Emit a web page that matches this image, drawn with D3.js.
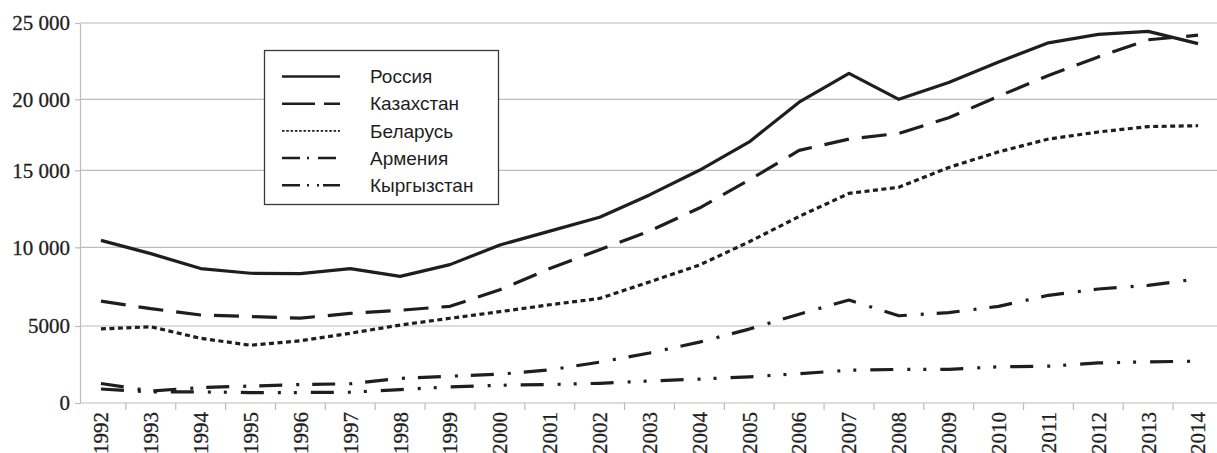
<!DOCTYPE html>
<html>
<head>
<meta charset="utf-8">
<script src="https://cdn.jsdelivr.net/npm/d3@7"></script>
<style>
body { margin: 0; background: #fff; }
svg { display: block; }
</style>
</head>
<body>
<svg id="svg"></svg>
<script>
var years = ["1992","1993","1994","1995","1996","1997","1998","1999","2000","2001","2002","2003",
	"2004","2005","2006","2007","2008","2009","2010","2011","2012","2013","2014"];
var russia     = [10450, 9600, 8650, 8350, 8330, 8650, 8150, 8900, 10150, 11050, 11950, 13400,
	15000, 17000, 19800, 21700, 20000, 21100, 22450, 23700, 24250, 24450, 23650];
var kazakhstan = [6580, 6100, 5700, 5600, 5500, 5800, 6000, 6250, 7300, 8650, 9850, 11050,
	12550, 14370, 16400, 17200, 17600, 18700, 20200, 21560, 22780, 23900, 24200];
var belarus    = [4810, 4950, 4200, 3750, 4040, 4530, 5060, 5490, 5910, 6350, 6750, 7800,
	8870, 10360, 12000, 13500, 13900, 15200, 16300, 17200, 17700, 18080, 18140];
var armenia    = [1265, 780, 1000, 1100, 1200, 1250, 1600, 1740, 1870, 2150, 2650, 3250,
	3950, 4800, 5750, 6650, 5650, 5850, 6250, 6950, 7350, 7580, 8000];
var kyrgyzstan = [910, 720, 720, 680, 680, 700, 870, 1050, 1150, 1200, 1280, 1430,
	1550, 1700, 1900, 2130, 2180, 2180, 2350, 2390, 2600, 2670, 2720];
var seriesNames = ["Россия", "Казахстан", "Беларусь", "Армения", "Кыргызстан"];
var yTicks = [0, 5000, 10000, 15000, 20000, 25000];
var yTickLabels = ["0", "5000", "10 000", "15 000", "20 000", "25 000"];

var width = 1217, height = 453;
var ink = "#1e1e1e", grid = "#bcbcbc";
var svg = d3.select("#svg")
	.attr("width", width)
	.attr("height", height);

// scanned original has slightly uneven gridlines, so the scale is piecewise
var x = d3.scaleBand()
	.domain(years)
	.range([76, 1223]);
var y = d3.scaleLinear()
	.domain(yTicks)
	.range([403, 326, 247.3, 170.3, 99.3, 23]);
var cx = function(yr) { return x(yr) + x.bandwidth() / 2; };

// gridlines
svg.append("g")
	.selectAll("line")
	.data(yTicks.slice(1))
	.enter()
	.append("line")
	.attr("x1", 80)
	.attr("x2", width)
	.attr("y1", function(d) { return y(d); })
	.attr("y2", function(d) { return y(d); })
	.style("stroke", grid)
	.style("stroke-width", 1.2);

// y axis
var yAxis = d3.axisLeft(y)
	.tickValues(yTicks)
	.tickSize(5)
	.tickSizeOuter(0)
	.tickPadding(5)
	.tickFormat(function(d, i) { return yTickLabels[i]; });
var gy = svg.append("g")
	.attr("transform", "translate(80,0)")
	.call(yAxis)
	.attr("font-family", "Liberation Serif")
	.attr("font-size", 21);
gy.selectAll("path, line").style("stroke", grid).style("stroke-width", 1.2);
gy.selectAll("text")
	.attr("font-family", "Liberation Serif")
	.attr("font-size", 21)
	.attr("fill", ink)
	.attr("stroke", ink)
	.attr("stroke-width", 0.3);

// x axis: baseline, ticks between years, rotated labels
svg.append("line")
	.attr("x1", 80).attr("x2", width)
	.attr("y1", y(0)).attr("y2", y(0))
	.style("stroke", grid)
	.style("stroke-width", 1.2);
svg.append("g")
	.selectAll("line")
	.data(years.slice(1))
	.enter()
	.append("line")
	.attr("x1", function(d) { return x(d); })
	.attr("x2", function(d) { return x(d); })
	.attr("y1", y(0))
	.attr("y2", y(0) + 7)
	.style("stroke", grid)
	.style("stroke-width", 1.2);
svg.append("g")
	.selectAll("text")
	.data(years)
	.enter()
	.append("text")
	.attr("transform", function(d) { return "translate(" + cx(d) + "," + (y(0) + 9) + ") rotate(-90)"; })
	.attr("dy", "0.35em")
	.attr("text-anchor", "end")
	.attr("font-family", "Liberation Serif")
	.attr("font-size", 21)
	.attr("fill", ink)
	.attr("stroke", ink)
	.attr("stroke-width", 0.3)
	.text(function(d) { return d; });

// series
var series = [
	{ name: seriesNames[0], values: russia,     dash: null,                legDash: null,               legW: 2.5 },
	{ name: seriesNames[1], values: kazakhstan, dash: "25,13",             legDash: "33,9",             legW: 2.5 },
	{ name: seriesNames[2], values: belarus,    dash: "5,3.5",             legDash: "2.5,1.8",          legW: 1.6 },
	{ name: seriesNames[3], values: armenia,    dash: "23,14,3,13",        legDash: "18,7,2,9",         legW: 2.5 },
	{ name: seriesNames[4], values: kyrgyzstan, dash: "23,14,3,13,3,14",   legDash: "18,7,2,8,2,4",     legW: 2.5 }
];

var line = d3.line()
	.x(function(d, i) { return cx(years[i]); })
	.y(function(d) { return y(d); });

svg.append("g")
	.selectAll("path")
	.data(series)
	.enter()
	.append("path")
	.attr("d", function(d) { return line(d.values); })
	.style("fill", "none")
	.style("stroke", ink)
	.style("stroke-width", 3.2)
	.style("stroke-linejoin", "round")
	.style("stroke-dasharray", function(d) { return d.dash; });

// legend
var legend = svg.append("g");
legend.append("rect")
	.attr("x", 264.5).attr("y", 50.5)
	.attr("width", 234).attr("height", 154)
	.style("fill", "#fff")
	.style("stroke", "#3a3a3a")
	.style("stroke-width", 1.3);
var row = legend.selectAll("g.row")
	.data(series)
	.enter()
	.append("g")
	.attr("class", "row")
	.attr("transform", function(d, i) { return "translate(0," + (76.5 + i * 27.2) + ")"; });
row.append("line")
	.attr("x1", 282).attr("x2", 340)
	.style("stroke", ink)
	.style("stroke-width", function(d) { return d.legW; })
	.style("stroke-dasharray", function(d) { return d.legDash; });
row.append("text")
	.attr("x", 370)
	.attr("dy", "0.35em")
	.attr("font-family", "Liberation Sans")
	.attr("font-size", 19)
	.attr("fill", ink)
	.text(function(d) { return d.name; });
</script>
</body>
</html>
